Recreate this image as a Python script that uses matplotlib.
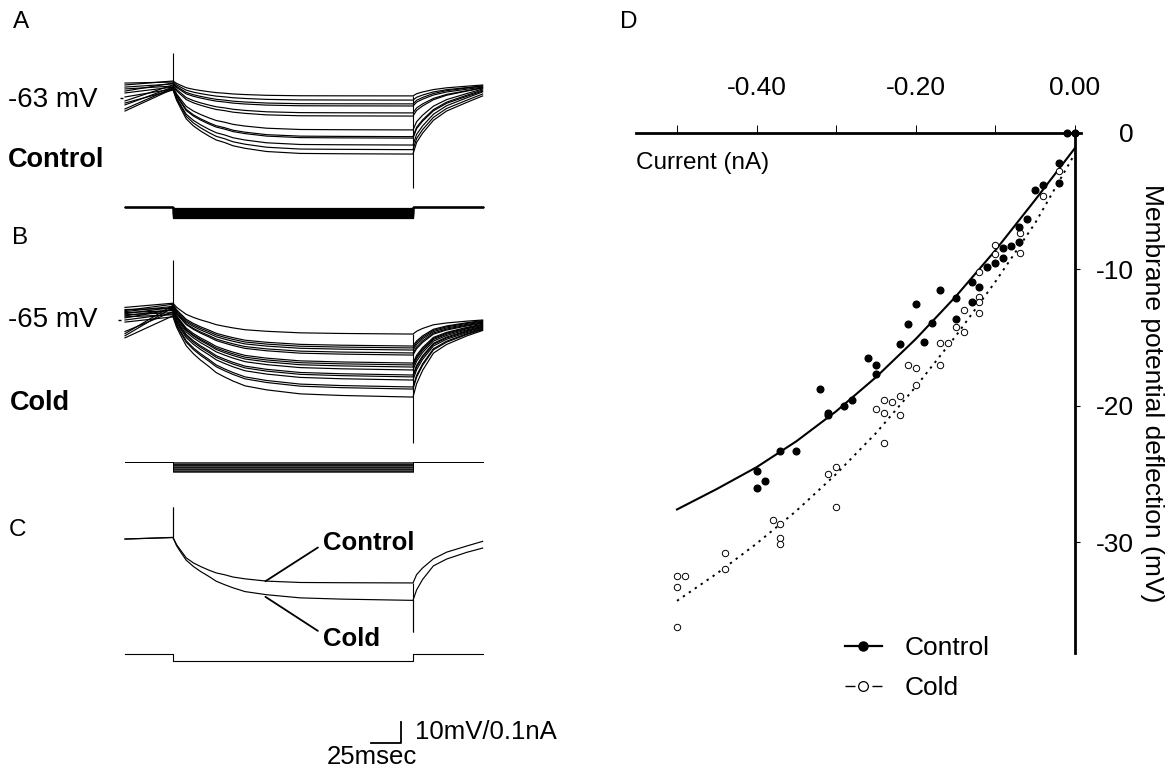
import matplotlib
matplotlib.use("Agg")
import matplotlib.pyplot as plt
from matplotlib.lines import Line2D

plt.rcParams["font.family"] = ["Liberation Sans", "DejaVu Sans"]
plt.rcParams["axes.unicode_minus"] = False

# =====================
# Data: sweeps (time in ms, pulse from 0 to 200 ms)
# =====================

SWEEP_START, PULSE_ON, PULSE_OFF, SWEEP_END = -40, 0, 200, 258

# time course of the charging / recovery (fraction of the full step)
CHARGE_T = [0, 3, 6, 11, 17, 23, 30, 36, 43, 50, 60, 78, 106, 140, 200]
FAST_CHARGE = [0, 0.16, 0.27, 0.45, 0.56, 0.64, 0.72, 0.78, 0.82, 0.87, 0.91, 0.96, 0.99, 0.995, 1.0]
SLOW_CHARGE = [0, 0.13, 0.22, 0.36, 0.46, 0.54, 0.62, 0.695, 0.75, 0.80, 0.86, 0.91, 0.96, 0.98, 1.0]
REC_T = [200, 203, 208, 217, 228, 245, 258]
FAST_REC = [0, 0.20, 0.36, 0.58, 0.74, 0.89, 1.0]
SLOW_REC = [0, 0.20, 0.40, 0.66, 0.79, 0.92, 1.0]

# panel A (control), mV
A_START = [-56.8, -55.9, -59.7, -57.8, -64.4, -58.7, -66.3, -60.6, -68.2, -62.5, -69.2, -65.4]
A_ONSET = [-54.9, -55.4, -55.9, -56.3, -56.8, -57.3, -57.8, -57.8, -58.2, -58.7, -58.7, -59.2]
A_STEADY = [-62.0, -64.0, -65.8, -66.8, -70.1, -71.6, -78.2, -81.4, -82.1, -85.4, -87.6, -89.7]
A_END = [-56.8, -57.3, -57.3, -57.8, -58.2, -58.2, -58.7, -59.2, -59.7, -60.1, -61.1, -62.0]
A_SPIKE = (-41.7, -106.0)
A_CURRENT = [-0.004, -0.008, -0.012, -0.017, -0.021, -0.025, -0.030, -0.034, -0.038, -0.043, -0.047, -0.052]

# panel B (cold), mV
B_START = [-59.0, -60.5, -71.5, -61.0, -62.0, -72.5, -60.0, -63.0, -64.0, -61.5, -70.5, -62.5,
           -65.0, -63.5, -73.5, -66.0]
B_ONSET = [-57.0, -57.5, -58.0, -58.5, -59.0, -59.0, -59.5, -60.0, -60.0, -60.5, -61.0, -61.5,
           -62.0, -62.5, -63.0, -63.5]
B_STEADY = [-71.7, -77.4, -78.3, -79.3, -80.7, -81.7, -85.5, -86.4, -87.4, -88.8, -91.2, -92.1,
            -93.6, -96.9, -97.9, -101.7]
B_END = [-65.0, -65.3, -65.6, -66.0, -66.3, -66.6, -67.0, -67.3, -67.6, -68.0, -68.3, -68.6,
         -69.0, -69.3, -69.6, -70.0]
B_SPIKE = (-36.4, -123.4)
B_CURRENT = [-0.003, -0.006, -0.009, -0.012, -0.015, -0.018, -0.021, -0.024, -0.027, -0.030,
             -0.033, -0.036, -0.039, -0.042, -0.045, -0.048]

# panel C (averaged, mV relative to rest): control, cold
C_START = [-0.5, -0.5]
C_ONSET = [0.3, 0.2]
C_STEADY = [-21.4, -29.7]
C_END = [-1.6, -4.8]
C_SPIKE = (14.8, -44.8)
C_CURRENT = -0.032

# =====================
# Data: panel D (I-V relation)
# =====================

CTRL_I = [0.0, -0.01, -0.02, -0.02, -0.04, -0.05, -0.06, -0.07, -0.07, -0.08, -0.09, -0.09, -0.10,
          -0.11, -0.12, -0.13, -0.13, -0.15, -0.15, -0.17, -0.18, -0.19, -0.20, -0.21, -0.22, -0.25,
          -0.25, -0.26, -0.28, -0.29, -0.31, -0.31, -0.32, -0.35, -0.37, -0.39, -0.40, -0.40]
CTRL_V = [0.0, 0.0, -2.2, -3.7, -3.8, -4.2, -6.3, -6.9, -8.0, -8.3, -8.4, -9.2, -9.5,
          -9.8, -11.3, -10.9, -12.4, -12.1, -13.6, -11.5, -13.9, -15.3, -12.5, -14.0, -15.5, -17.0,
          -17.7, -16.5, -19.6, -20.0, -20.5, -20.7, -18.8, -23.3, -23.3, -25.5, -24.8, -26.0]

COLD_I = [0.0, -0.02, -0.04, -0.069, -0.069, -0.10, -0.10, -0.12, -0.12, -0.12, -0.12, -0.14,
          -0.14, -0.15, -0.16, -0.17, -0.17, -0.20, -0.20, -0.21, -0.22, -0.22, -0.23, -0.24,
          -0.24, -0.24, -0.25, -0.30, -0.30, -0.31, -0.37, -0.37, -0.37, -0.38, -0.44, -0.44,
          -0.49, -0.50, -0.50, -0.50]
COLD_V = [0.0, -2.8, -4.6, -7.35, -8.8, -8.2, -8.9, -10.2, -12.0, -12.4, -13.2, -13.0,
          -14.6, -14.2, -15.4, -15.4, -17.0, -17.2, -18.5, -17.0, -19.3, -20.7, -19.7, -19.6,
          -20.5, -22.7, -20.2, -24.5, -27.4, -25.0, -28.7, -29.7, -30.1, -28.4, -30.8, -32.0,
          -32.5, -32.5, -33.3, -36.2]

FIT_I = [-0.50, -0.45, -0.40, -0.35, -0.30, -0.25, -0.20, -0.15, -0.10, -0.05, 0.0]
CTRL_FIT = [-27.6, -26.1, -24.5, -22.6, -20.4, -17.9, -15.1, -12.0, -8.6, -4.9, -1.1]
COLD_FIT = [-34.3, -32.3, -30.1, -27.7, -25.0, -22.0, -18.6, -14.9, -10.9, -6.6, -1.5]

# =====================
# Figure / layout helpers (pixel based)
# =====================

W, H = 1174, 770
fig = plt.figure(figsize=(W / 100, H / 100), dpi=100)

PX_MS = 1.2      # px per ms
PX_MV = 2.1      # px per mV
PX_NA = 210.0    # px per nA
ONSET_PX = 173


def px_axes(x0, x1, y0, y1):
    return fig.add_axes([x0 / W, 1 - y1 / H, (x1 - x0) / W, (y1 - y0) / H])


def trace_axes(y0, y1, ref_px, ref_val, per_unit):
    ax = px_axes(100, 500, y0, y1)
    ax.set_xlim((100 - ONSET_PX) / PX_MS, (500 - ONSET_PX) / PX_MS)
    ax.set_ylim(ref_val - (y1 - ref_px) / per_unit, ref_val + (ref_px - y0) / per_unit)
    ax.set_axis_off()
    return ax


def fig_text(x, y, s, **kw):
    fig.text(x / W, 1 - y / H, s, **kw)


def sweep(start, onset, steady, end, charge, rec):
    t = [SWEEP_START, PULSE_ON] + CHARGE_T[1:] + REC_T[1:]
    v = [start, onset]
    v += [onset + f * (steady - onset) for f in charge[1:]]
    v += [steady + f * (end - steady) for f in rec[1:]]
    return t, v


def draw_sweeps(ax, starts, onsets, steadies, ends, charge, rec, spike, lw=0.85):
    for s, o, st, e in zip(starts, onsets, steadies, ends):
        t, v = sweep(s, o, st, e, charge, rec)
        ax.plot(t, v, color="black", lw=lw)
    ax.vlines(PULSE_ON, min(onsets), spike[0], color="black", lw=0.8)
    ax.vlines(PULSE_OFF, spike[1], max(steadies), color="black", lw=0.8)


def draw_current(ax, levels, lw=0.8):
    for lvl in levels:
        ax.plot([SWEEP_START, PULSE_ON, PULSE_ON, PULSE_OFF, PULSE_OFF, SWEEP_END],
                [0, 0, lvl, lvl, 0, 0], color="black", lw=lw)


# =====================
# Panels A, B, C
# =====================

ax_a = trace_axes(35, 200, 98, -63, PX_MV)
draw_sweeps(ax_a, A_START, A_ONSET, A_STEADY, A_END, FAST_CHARGE, FAST_REC, A_SPIKE)
ax_a.hlines(-63, -44.5, -41.5, color="black", lw=1.0)
ax_ai = trace_axes(198, 228, 207.3, 0, PX_NA)
draw_current(ax_ai, A_CURRENT, lw=0.9)

ax_b = trace_axes(250, 452, 320, -65, PX_MV)
draw_sweeps(ax_b, B_START, B_ONSET, B_STEADY, B_END, SLOW_CHARGE, SLOW_REC, B_SPIKE)
ax_b.hlines(-65, -46, -43, color="black", lw=1.0)
ax_bi = trace_axes(452, 482, 461.7, 0, PX_NA)
draw_current(ax_bi, B_CURRENT, lw=0.5)

ax_c = trace_axes(495, 645, 538, 0, PX_MV)
draw_sweeps(ax_c, C_START[:1], C_ONSET[:1], C_STEADY[:1], C_END[:1], FAST_CHARGE, FAST_REC, C_SPIKE)
draw_sweeps(ax_c, C_START[1:], C_ONSET[1:], C_STEADY[1:], C_END[1:], SLOW_CHARGE, SLOW_REC, C_SPIKE)
ax_ci = trace_axes(645, 675, 654, 0, PX_NA)
draw_current(ax_ci, [C_CURRENT])

ax_c.annotate("Control", xy=(77, -20.6), xytext=(323, H - 543), textcoords="figure pixels",
              fontsize=18.5, fontweight="bold", ha="left", va="center",
              arrowprops=dict(arrowstyle="-", lw=1.3, color="black", relpos=(0, 0.45),
                              shrinkA=2, shrinkB=0))
ax_c.annotate("Cold", xy=(77, -28.0), xytext=(323, H - 639), textcoords="figure pixels",
              fontsize=18.5, fontweight="bold", ha="left", va="center",
              arrowprops=dict(arrowstyle="-", lw=1.3, color="black", relpos=(0, 0.7),
                              shrinkA=2, shrinkB=0))

# scale bar: 25 ms / 10 mV
SB_T0, SB_V0 = 164.7, -97.5
ax_c.plot([SB_T0, SB_T0 + 25, SB_T0 + 25], [SB_V0, SB_V0, SB_V0 + 10], color="black",
          lw=1.3, clip_on=False)
fig_text(415, 732, "10mV/0.1nA", fontsize=18.5, ha="left", va="center")
fig_text(327, 757, "25msec", fontsize=18.5, ha="left", va="center")

fig_text(21, 22, "A", fontsize=17.5, ha="center", va="center")
fig_text(20, 238, "B", fontsize=17.5, ha="center", va="center")
fig_text(18, 530, "C", fontsize=17.5, ha="center", va="center")
fig_text(629, 22, "D", fontsize=17.5, ha="center", va="center")

fig_text(8, 100, "-63 mV", fontsize=20, ha="left", va="center")
fig_text(8, 160, "Control", fontsize=19.5, fontweight="bold", ha="left", va="center")
fig_text(8, 320, "-65 mV", fontsize=20, ha="left", va="center")
fig_text(10, 403, "Cold", fontsize=19.5, fontweight="bold", ha="left", va="center")

# =====================
# Panel D
# =====================

D_X0, D_X1, D_Y0, D_Y1 = 636, 1081, 133, 652.7
PX_D_NA, PX_D_MV = 796.0, 13.64
ax_d = px_axes(D_X0, D_X1, D_Y0, D_Y1)
ax_d.set_xlim((D_X0 - 1075) / PX_D_NA, (D_X1 - 1075) / PX_D_NA)
ax_d.set_ylim(-(D_Y1 - D_Y0) / PX_D_MV, 0)
ax_d.patch.set_visible(False)

ax_d.spines["left"].set_visible(False)
ax_d.spines["bottom"].set_visible(False)
ax_d.spines["right"].set_position(("data", 0))
ax_d.spines["top"].set_linewidth(2.0)
ax_d.spines["right"].set_linewidth(2.0)

ax_d.plot(FIT_I, CTRL_FIT, color="black", lw=1.5, zorder=2)
ax_d.plot(FIT_I, COLD_FIT, color="black", lw=1.4, ls=(0, (1.2, 2.5)), zorder=2)
ax_d.plot(COLD_I, COLD_V, "o", ms=4.6, mfc="white", mec="black", mew=0.7, clip_on=False, zorder=3)
ax_d.plot(CTRL_I, CTRL_V, "o", ms=4.8, color="black", clip_on=False, zorder=4)

ax_d.xaxis.tick_top()
ax_d.set_xticks([-0.4, -0.2, 0.0])
ax_d.set_xticklabels(["-0.40", "-0.20", "0.00"])
ax_d.set_xticks([-0.5, -0.3, -0.1], minor=True)
ax_d.tick_params(axis="x", which="both", direction="out", length=5.8, width=0.7, pad=18,
                 labelsize=19)

ax_d.yaxis.tick_right()
ax_d.set_yticks([0, -10, -20, -30])
ax_d.set_yticklabels(["0", "-10", "-20", "-30"])
ax_d.tick_params(axis="y", direction="out", length=3.6, width=0.8, pad=38.9, labelsize=19)
plt.setp(ax_d.get_yticklabels(), ha="right")

ax_d.yaxis.set_label_position("right")
ax_d.set_ylabel("Membrane potential deflection (mV)", fontsize=19, rotation=270, va="center",
                ha="center")
ax_d.yaxis.set_label_coords((1152 - D_X0) / (D_X1 - D_X0), 0.5)

ax_d.set_xlabel("Current (nA)", fontsize=17.5, ha="left", va="center")
ax_d.xaxis.set_label_coords(0, (D_Y1 - 163) / (D_Y1 - D_Y0))

h_ctrl = Line2D([], [], color="black", lw=1.6, marker="o", ms=6.5)
h_cold = Line2D([], [], color="black", lw=1.0, ls=(0, (7.2, 12.2)), marker="o", ms=7,
                mfc="white", mew=0.9)
ax_d.legend([h_ctrl, h_cold], ["Control", "Cold"], loc="upper left",
            bbox_to_anchor=(845 / W, 1 - 636 / H), bbox_transform=fig.transFigure,
            frameon=False, fontsize=19, handlelength=1.4, handletextpad=0.87,
            labelspacing=0.62, borderpad=0, borderaxespad=0)

fig.savefig("out.png", dpi=100, facecolor="white")
